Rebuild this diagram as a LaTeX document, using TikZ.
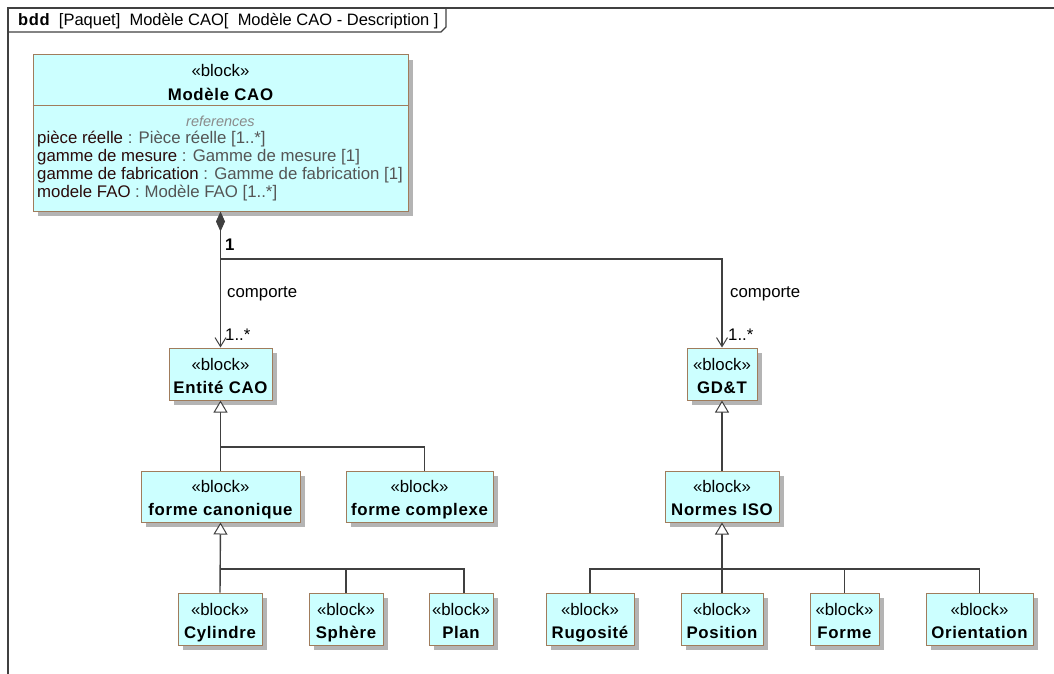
\documentclass[tikz,border=0pt]{standalone}
\usepackage{fontspec}
\setmainfont{Liberation Sans}
\newfontfamily\boldsp{Liberation Sans}[LetterSpace=4]
\usetikzlibrary{arrows.meta,shadows,calc}
\definecolor{blkfill}{HTML}{CCFFFF}
\definecolor{blkborder}{HTML}{A07C5C}
\definecolor{lnc}{HTML}{404040}
\definecolor{shd}{HTML}{B4B4B4}
\definecolor{propc}{HTML}{2A0A0A}
\definecolor{typec}{HTML}{555555}
\definecolor{refc}{HTML}{8A8A8A}
\newcommand{\bn}[1]{{\boldsp\bfseries #1}}
\newcommand{\bst}{\rule[-4pt]{0pt}{23pt}}
\newcommand{\blkt}[1]{«block»\bst\\\bn{#1}\bst}
\tikzset{
  blk/.style={draw=blkborder, fill=blkfill, line width=1pt, inner sep=0pt, align=center,
    font=\fontsize{16.8}{23}\selectfont, text=black,
    drop shadow={shadow xshift=5pt, shadow yshift=-5pt, fill=shd, opacity=1}},
  conn/.style={draw=lnc, line width=1.4pt},
  gen/.style={conn, -{Triangle[open, length=12pt, width=14pt, fill=white, line width=1pt]}},
  assoc/.style={conn, -{Straight Barb[length=9pt, width=11pt, line width=1pt]}},
  lbl/.style={font=\fontsize{16.8}{18}\selectfont, text=black, inner sep=0pt, anchor=west},
  prop/.style={font=\fontsize{16.8}{18}\selectfont, text=propc, inner sep=0pt, anchor=base west},
  frameline/.style={draw=lnc, line width=1.4pt},
}
\begin{document}
\begin{tikzpicture}[x=1pt,y=-1pt]
\useasboundingbox (0,0) rectangle (1054,674);
\clip (0,0) rectangle (1054,674);
% frame
\draw[frameline] (8,700) -- (8,8) -- (1080,8);
\draw[frameline] (8,32) -- (441,32) -- (446,27) -- (446,8);
\node[font=\fontsize{16.5}{18}\selectfont, inner sep=0pt, anchor=base west] (hdr) at (18,26)
  {\bn{bdd}\ \ [Paquet] \ Modèle CAO[ \ Modèle CAO - Description ]};

% main block
\node[blk, minimum width=375pt, minimum height=156pt] (mod) at (220.5,133) {};
\draw[draw=blkborder, line width=1pt] (mod.west |- 0,106) -- (mod.east |- 0,106);
\node[font=\fontsize{16.8}{18}\selectfont, inner sep=0pt] (modst) at (220.5,70) {«block»};
\node[font=\fontsize{16.8}{18}\selectfont, inner sep=0pt] (modnm) at (220.5,94) {\bn{Modèle CAO}};
\node[font=\fontsize{14.5}{16}\selectfont\itshape, text=refc, inner sep=0pt] (modref) at (220.5,121) {references};
\node[prop] (p1) at (37,143) {pièce réelle \textcolor{typec}{: Pièce réelle [1..*]}};
\node[prop] (p2) at (37,161) {gamme de mesure \textcolor{typec}{: Gamme de mesure [1]}};
\node[prop] (p3) at (37,179) {gamme de fabrication \textcolor{typec}{: Gamme de fabrication [1]}};
\node[prop] (p4) at (37,197) {modele FAO \textcolor{typec}{: Modèle FAO [1..*]}};

% blocks
\node[blk, minimum width=103pt, minimum height=52pt] (ent) at (220.5,374) {\blkt{Entité CAO}};
\node[blk, minimum width=70pt, minimum height=52pt] (gdt) at (722,374) {\blkt{GD\&T}};
\node[blk, minimum width=159pt, minimum height=51pt] (fcan) at (220.5,496.5) {\blkt{forme canonique}};
\node[blk, minimum width=147pt, minimum height=51pt] (fcx) at (419.5,496.5) {\blkt{forme complexe}};
\node[blk, minimum width=114pt, minimum height=51pt] (nis) at (722,496.5) {\blkt{Normes ISO}};
\node[blk, minimum width=84pt, minimum height=52pt] (cyl) at (220,619) {\blkt{Cylindre}};
\node[blk, minimum width=74pt, minimum height=52pt] (sph) at (346,619) {\blkt{Sphère}};
\node[blk, minimum width=64pt, minimum height=52pt] (pla) at (461,619) {\blkt{Plan}};
\node[blk, minimum width=88pt, minimum height=52pt] (rug) at (590,619) {\blkt{Rugosité}};
\node[blk, minimum width=82pt, minimum height=52pt] (pos) at (722,619) {\blkt{Position}};
\node[blk, minimum width=69pt, minimum height=52pt] (frm) at (844.5,619) {\blkt{Forme}};
\node[blk, minimum width=107pt, minimum height=52pt] (ori) at (979.5,619) {\blkt{Orientation}};

% composition / associations
\draw[conn, {Diamond[length=20pt, width=9pt, fill=lnc, line width=1pt]}-{Straight Barb[length=9pt, width=11pt, line width=1pt]}]
  (mod.south -| ent.north) -- (ent.north);
\coordinate (jn) at (ent.north |- 0,259);
\draw[assoc] (jn) -| (gdt.north);
\node[lbl, font=\fontsize{16.8}{18}\selectfont\bfseries] (m1) at (225,245) {1};
\node[lbl] (c1) at (227,294) {comporte};
\node[lbl] (n1) at (225,335) {1..*};
\node[lbl] (c2) at (730,294) {comporte};
\node[lbl] (n2) at (728,335) {1..*};

% generalizations
\draw[gen] (fcan.north) -- (ent.south);
\coordinate (b1) at (ent.south |- 0,447);
\draw[conn] (b1) -| ([xshift=5pt]fcx.north);

\draw[gen] (cyl.north) -- (fcan.south);
\coordinate (b2) at (fcan.south |- 0,569);
\draw[conn] (b2) -| (sph.north);
\draw[conn] (b2) -| ([xshift=3pt]pla.north);

\draw[gen] (nis.north) -- (gdt.south);

\draw[gen] (pos.north) -- (nis.south);
\coordinate (b4) at (nis.south |- 0,569);
\draw[conn] (b4) -| (rug.north);
\draw[conn] (b4) -| (frm.north);
\draw[conn] (b4) -| (ori.north);
\end{tikzpicture}
\end{document}
